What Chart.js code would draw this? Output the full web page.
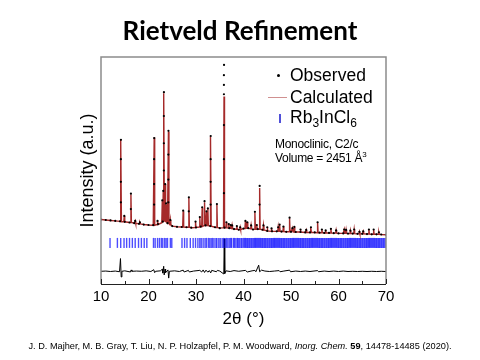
<!DOCTYPE html>
<html>
<head>
<meta charset="utf-8">
<script src="https://cdn.jsdelivr.net/npm/chart.js@4.4.1/dist/chart.umd.min.js"></script>
<style>
  body { margin: 0; background: #fff; }
  #wrap { position: relative; width: 480px; height: 360px; font-family: "Liberation Sans", Arial, sans-serif; color: #000; }
  #wrap canvas { position: absolute; left: 0; top: 0; }
  .t { position: absolute; white-space: nowrap; }
  #title { left: 0; top: 15px; width: 480px; text-align: center; font: bold 26px/30px Lato, "Open Sans", sans-serif; }
  .leg { left: 290px; font-size: 17.5px; line-height: 20px; }
  .leg sub { font-size: 12px; vertical-align: -4px; line-height: 0; }
  .info { left: 275px; font-size: 12px; line-height: 14px; letter-spacing: -0.3px; }
  #cite { left: 0; top: 340px; width: 480px; text-align: center; font-size: 9.2px; line-height: 12px; }
  .mk { position: absolute; }
</style>
</head>
<body>
<div id="wrap">
  <canvas id="myChart" width="480" height="360"></canvas>
  <div class="t" id="title">Rietveld Refinement</div>

  <div class="mk" style="left:277px;top:74px;width:3px;height:3px;border-radius:50%;background:#000"></div>
  <div class="t leg" style="top:65px">Observed</div>
  <div class="mk" style="left:268px;top:97px;width:19px;height:1px;background:#d09090"></div>
  <div class="t leg" style="top:87px">Calculated</div>
  <div class="mk" style="left:279px;top:114px;width:2px;height:9px;background:#5050d8"></div>
  <div class="t leg" style="top:107px">Rb<sub>3</sub>InCl<sub>6</sub></div>
  <div class="t info" style="top:137px">Monoclinic, C2/c</div>
  <div class="t info" style="top:151px">Volume = 2451 Å<sup style="font-size:8px;vertical-align:5px;line-height:0">3</sup></div>

  <div class="t" id="cite">J. D. Majher, M. B. Gray, T. Liu, N. P. Holzapfel, P. M. Woodward, <i>Inorg. Chem.</i> <b>59</b>, 14478-14485 (2020).</div>
</div>
<script>
// background of the pattern, read every degree
var baseX = [10,11,12,13,14,15,16,17,18,19,20,21,22,23,24,25,26,27,28,29,30,31,32,33,34,35,36,37,38,39,40,
  41,42,43,44,45,46,47,48,49,50,51,52,53,54,55,56,57,58,59,60,61,62,63,64,65,66,67,68,69,70];
var baseY = [28.4,28.2,28.0,27.8,27.6,27.4,27.1,26.8,26.5,26.2,26.0,25.9,26.4,27.5,26.8,25.5,25.2,25.1,25.0,24.8,24.9,
  25.3,25.8,25.5,25.0,24.6,24.8,24.6,24.2,23.9,24.4,24.6,24.0,24.2,23.9,23.4,23.2,23.2,23.1,23.0,23.0,
  22.9,22.9,22.7,22.7,22.7,22.6,22.5,22.5,22.4,22.3,22.3,22.2,22.2,22.1,22.1,22.0,21.9,21.9,21.8,21.7];

// peaks: position (2theta), foot, calculated top, observed top
var peakPos  = [14.2,14.9,16.3,17.2,18.2,21.2,21.9,22.9,23.1,23.25,23.5,23.7,24.2,24.6,27.3,28.5,29.9,30.8,31.3,31.8,
  32.2,32.5,33.1,34.4,35.9,36.4,36.9,37.3,37.6,38.6,39.3,40.4,40.8,41.6,42.4,42.8,43.4,44.2,45.0,45.9,
  47.3,47.6,48.4,49.7,50.3,50.7,52.0,53.2,54.2,55.6,56.5,57.3,58.4,59.5,61.2,61.6,62.5,63.3,64.4,65.2,66.4,67.4,68.5];
var peakFoot = [27.5,27.4,27.1,26.8,26.5,25.9,26.2,27.0,27.3,27.5,27.5,27.2,26.8,26.2,25.1,25.0,24.9,25.1,25.4,25.7,
  25.8,25.7,25.5,24.9,24.8,24.8,24.7,24.5,24.4,24.1,24.0,24.5,24.6,24.3,24.1,24.1,24.1,23.8,23.4,23.2,
  23.2,23.2,23.1,23.0,23.0,22.9,22.9,22.7,22.7,22.6,22.6,22.5,22.5,22.4,22.3,22.3,22.2,22.2,22.1,22.1,22.0,21.9,21.9];
var peakCalc = [63.7,30.0,39.4,27.8,27.2,64.5,27.8,36.4,40.5,84.0,44.0,35.0,67.2,28.2,32.0,38.0,27.5,29.5,33.6,36.0,
  31.8,33.0,65.0,35.0,82.6,27.0,26.4,26.0,25.8,25.5,25.0,27.6,27.2,25.8,31.5,26.0,42.3,25.8,25.0,24.5,
  25.0,26.2,25.3,29.0,24.6,25.2,24.0,23.8,25.0,27.2,24.0,23.6,24.3,23.6,24.0,23.8,23.5,24.0,23.0,23.2,24.0,24.0,22.8];
var peakObs  = [63.5,30.0,39.8,27.8,27.2,64.3,27.8,36.8,41.0,84.5,44.0,35.5,67.5,28.2,32.3,38.2,27.5,29.5,33.8,36.5,
  32.0,33.3,65.2,35.2,96.5,27.2,26.4,26.0,25.8,25.5,25.0,27.8,27.2,25.8,31.8,26.0,43.2,25.8,25.0,24.5,
  25.0,26.2,25.3,29.2,24.6,25.2,24.0,23.8,25.0,27.2,24.0,23.6,24.3,23.6,24.0,23.8,23.5,24.0,23.0,23.2,24.0,24.0,22.8];

// observed points seen on the flanks of the strong peaks
var flankX = [14.18,14.18,14.18,21.18,21.18,21.18,23.23,23.23,23.23,24.18,24.18,24.18,33.08,33.08,33.08,
  35.88,35.88,35.88,35.88,35.88,35.88,16.28,28.48,43.38];
var flankY = [55,45,36,55,44,35,74,62,50,57,46,36,55,45,35,92,87.7,83.6,70,55,40,33,32,35];

// Bragg reflection positions (2theta)
var braggPos = [11.9,13.45,14.15,14.85,15.4,16.0,16.6,17.2,17.9,18.5,19.1,19.65,21.05,21.4,21.9,22.3,22.7,23.0,23.4,23.7,24.0,24.6,24.9,
  27.05,27.6,28.1,28.8,29.4,29.9,30.4,30.8,31.1,31.5,31.9,32.2,32.6,32.9,33.2,33.5,33.8,34.2,34.4,34.8,35.1,35.5,35.8,
  36.1,36.4,36.7,37.0,37.3,37.5,37.9,38.1,38.4,38.7,38.9,39.2,39.5,39.7,40.0,
  40.25,40.45,40.7,40.9,41.15,41.35,41.6,41.8,42.05,42.3,42.5,42.7,42.95,43.15,43.4,43.6,43.85,44.05,44.3,44.5,
  44.7,44.95,45.15,45.4,45.6,45.85,46.05,46.3,46.5,46.7,46.95,47.15,47.4,47.6,47.85,48.05,48.3,48.5,48.7,48.95,
  49.15,49.4,49.6,49.85,50.05,50.3,50.5,50.7,50.95,51.15,51.4,51.6,51.85,52.05,52.3,52.5,52.7,52.95,53.15,53.4,
  53.6,53.85,54.05,54.3,54.5,54.7,54.95,55.15,55.4,55.6,55.85,56.05,56.3,56.5,56.7,56.95,57.15,57.4,57.6,57.85,
  58.05,58.3,58.5,58.7,58.95,59.15,59.4,59.6,59.85,60.05,60.3,60.5,60.7,60.95,61.15,61.4,61.6,61.85,62.05,62.3,
  62.5,62.7,62.95,63.15,63.4,63.6,63.85,64.05,64.3,64.5,64.7,64.95,65.15,65.4,65.6,65.85,66.05,66.3,66.5,66.7,
  66.95,67.15,67.4,67.6,67.85,68.05,68.3,68.5,68.7,68.95,69.15,69.4,69.6,69.85];
var braggLevel = 18.1;

// difference curve (observed - calculated), offset below the pattern
var diffX = [10,11,12,13,13.9,14.1,14.25,14.4,15,16.2,16.35,16.5,17.5,18.5,19.5,20.5,21.1,21.3,21.5,22.5,22.9,23.0,23.2,23.3,
  23.5,23.6,24.1,24.25,24.4,25.5,26.5,27.3,27.5,28.4,28.6,29.5,30.8,31.2,31.5,31.8,32.1,32.5,32.8,33.1,33.3,34.3,34.5,
  35.0,35.85,35.95,36.05,36.3,37.2,38.0,39,40.4,40.8,41.8,42.4,42.6,43.2,43.4,43.8,44.5,45.5,46.5,47.5,47.7,48.5,49.7,
  49.9,51,52,53,54,55.6,55.8,57,58,59,60,61,62,63,64,65,66,67,68,69,70];
var diffY = [5.6,5.7,5.5,5.7,5.4,11.2,3.1,5.6,5.8,5.3,6.2,5.6,5.7,5.6,5.8,5.5,6.3,5.0,5.6,5.8,6.5,4.8,7.8,4.0,
  6.6,5.0,6.2,2.6,5.6,5.8,5.5,6.1,5.3,6.0,5.3,5.7,6.0,5.3,6.2,5.1,6.1,5.2,5.9,4.9,6.0,5.4,6.0,
  5.7,4.4,19.9,4.6,5.8,5.5,5.9,5.6,6.0,5.3,5.8,6.0,5.4,8.3,5.4,6.1,5.7,5.5,5.7,5.9,5.4,5.7,6.1,
  5.4,5.7,5.5,5.7,5.5,5.9,5.4,5.7,5.5,5.7,5.5,5.7,5.5,5.6,5.5,5.6,5.5,5.6,5.5,5.6,5.5];

var HW = 0.1; // half width of a drawn peak, degrees

var calcPts = [];
baseX.forEach(function (x, i) { calcPts.push({x: x, y: baseY[i]}); });
peakPos.forEach(function (p, i) {
  calcPts.push({x: p - HW, y: peakFoot[i]}, {x: p, y: peakCalc[i]}, {x: p + HW, y: peakFoot[i]});
});
calcPts.sort(function (a, b) { return a.x - b.x; });

var obsPts = [];
baseX.forEach(function (x, i) { obsPts.push({x: x, y: baseY[i]}); });
peakPos.forEach(function (p, i) { obsPts.push({x: p, y: peakObs[i]}); });
flankX.forEach(function (x, i) { obsPts.push({x: x, y: flankY[i]}); });

var braggPts = braggPos.map(function (p) { return {x: p, y: braggLevel}; });
var diffPts = diffX.map(function (x, i) { return {x: x, y: diffY[i]}; });

// frame and inward ticks on the bottom axis
var plotBox = {
  id: 'plotBox',
  afterDraw: function (chart) {
    var ctx = chart.ctx, a = chart.chartArea, xs = chart.scales.x;
    ctx.save();
    ctx.strokeStyle = '#8c8c8c';
    ctx.lineWidth = 1.5;
    ctx.beginPath();
    ctx.moveTo(a.left, a.bottom);
    ctx.lineTo(a.left, a.top);
    ctx.lineTo(a.right, a.top);
    ctx.lineTo(a.right, a.bottom);
    ctx.stroke();
    ctx.strokeStyle = '#222';
    ctx.lineWidth = 1;
    ctx.beginPath();
    ctx.moveTo(a.left, a.bottom + 0.5);
    ctx.lineTo(a.right, a.bottom + 0.5);
    for (var v = 10; v <= 70; v += 5) {
      var px = Math.round(xs.getPixelForValue(v)) + 0.5;
      var len = v % 10 === 0 ? 5 : 3;
      ctx.moveTo(px, a.bottom);
      ctx.lineTo(px, a.bottom - len);
    }
    ctx.stroke();
    ctx.restore();
  }
};

var ctx = document.getElementById('myChart').getContext('2d');
var chart = new Chart(ctx, {
  type: 'scatter',
  data: {
    datasets: [
      { label: 'Observed', data: obsPts, order: 0, showLine: false,
        pointRadius: 1.1, pointBackgroundColor: '#000', pointBorderWidth: 0 },
      { label: 'Calculated', data: calcPts, order: 1, showLine: true,
        borderColor: '#a52a2a', borderWidth: 1.4, pointRadius: 0 },
      { label: 'Rb3InCl6', data: braggPts, order: 2, showLine: false,
        pointStyle: 'line', rotation: 90, pointRadius: 5, pointBorderWidth: 1.4,
        pointBorderColor: 'rgba(0,0,255,0.7)' },
      { label: 'Difference', data: diffPts, order: 3, showLine: true,
        borderColor: '#000', borderWidth: 1, pointRadius: 0 }
    ]
  },
  options: {
    responsive: false,
    animation: false,
    events: [],
    layout: { padding: { top: 57, right: 94, left: 0, bottom: 0 } },
    plugins: { legend: { display: false }, tooltip: { enabled: false } },
    scales: {
      x: {
        type: 'linear', min: 10, max: 70,
        grid: { display: false, drawTicks: false, tickLength: 0 }, border: { display: false },
        ticks: { stepSize: 10, color: '#000', padding: 4,
          font: { family: '"Liberation Sans", Arial, sans-serif', size: 15 } },
        title: { display: true, text: '2θ (°)', color: '#000', padding: { top: 0, bottom: 30 },
          font: { family: '"Liberation Sans", Arial, sans-serif', size: 17 } },
        afterFit: function (s) { s.height = 76; }
      },
      y: {
        min: 0, max: 100,
        grid: { display: false }, border: { display: false },
        ticks: { display: false },
        title: { display: true, text: 'Intensity (a.u.)', color: '#000', padding: { top: 77, bottom: 0 },
          font: { family: '"Liberation Sans", Arial, sans-serif', size: 18 } },
        afterFit: function (s) { s.width = 101; }
      }
    }
  },
  plugins: [plotBox]
});
</script>
</body>
</html>
